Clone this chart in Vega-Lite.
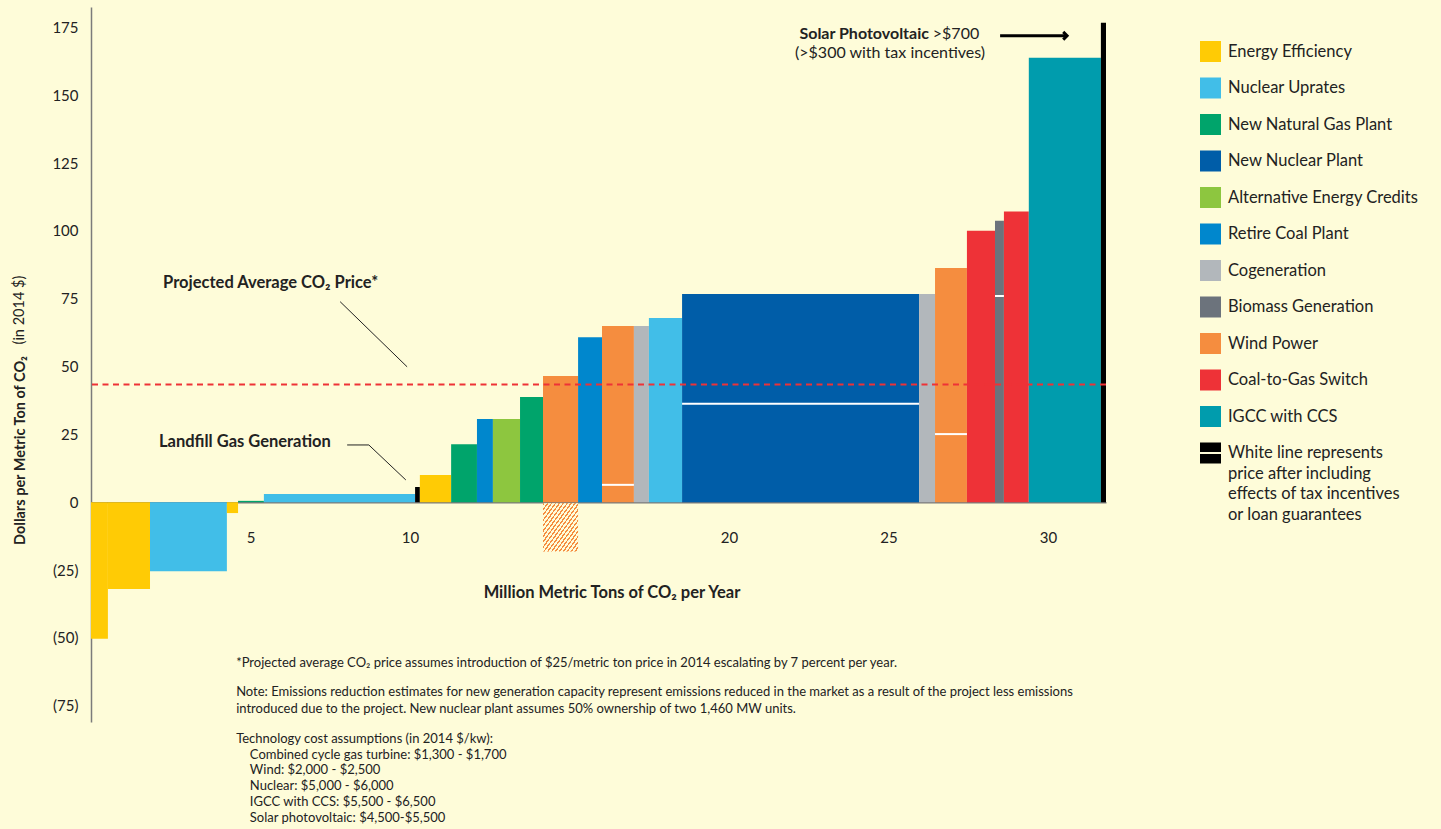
{
  "$schema": "https://vega.github.io/schema/vega-lite/v6.json",
  "width": 1015,
  "height": 715,
  "autosize": {"type": "none"},
  "padding": {"left": 91, "top": 7, "right": 335, "bottom": 107},
  "background": "#FEFCD9",
  "config": {"view": {"stroke": null}, "font": "Lato"},
  "data": {"values": [{}]},
  "datasets": {
    "bars": [
      {"cat": "Energy Efficiency", "x0": 0, "x1": 0.53, "v": -50.3},
      {"cat": "Energy Efficiency", "x0": 0.53, "x1": 1.85, "v": -32.0},
      {"cat": "Nuclear Uprates", "x0": 1.85, "x1": 4.26, "v": -25.4},
      {"cat": "Energy Efficiency", "x0": 4.26, "x1": 4.61, "v": -4.0},
      {"cat": "New Natural Gas Plant", "x0": 4.61, "x1": 5.42, "v": 0.5},
      {"cat": "Nuclear Uprates", "x0": 5.42, "x1": 10.16, "v": 3.0},
      {"cat": "Landfill Gas Generation", "x0": 10.16, "x1": 10.31, "v": 5.6},
      {"cat": "Energy Efficiency", "x0": 10.31, "x1": 11.29, "v": 10.0},
      {"cat": "New Natural Gas Plant", "x0": 11.29, "x1": 12.10, "v": 21.4},
      {"cat": "Retire Coal Plant", "x0": 12.10, "x1": 12.60, "v": 30.7},
      {"cat": "Alternative Energy Credits", "x0": 12.60, "x1": 13.45, "v": 30.7},
      {"cat": "New Natural Gas Plant", "x0": 13.45, "x1": 14.17, "v": 38.8},
      {"cat": "Wind Power", "x0": 14.17, "x1": 15.27, "v": 46.5},
      {"cat": "Retire Coal Plant", "x0": 15.27, "x1": 16.02, "v": 60.8},
      {"cat": "Wind Power", "x0": 16.02, "x1": 17.02, "v": 64.9},
      {"cat": "Cogeneration", "x0": 17.02, "x1": 17.49, "v": 64.9},
      {"cat": "Nuclear Uprates", "x0": 17.49, "x1": 18.53, "v": 67.9},
      {"cat": "New Nuclear Plant", "x0": 18.53, "x1": 25.96, "v": 76.7},
      {"cat": "Cogeneration", "x0": 25.96, "x1": 26.46, "v": 76.7},
      {"cat": "Wind Power", "x0": 26.46, "x1": 27.46, "v": 86.3},
      {"cat": "Coal-to-Gas Switch", "x0": 27.46, "x1": 28.34, "v": 100.0},
      {"cat": "Biomass Generation", "x0": 28.34, "x1": 28.62, "v": 103.7},
      {"cat": "Coal-to-Gas Switch", "x0": 28.62, "x1": 29.40, "v": 107.1},
      {"cat": "IGCC with CCS", "x0": 29.40, "x1": 31.66, "v": 163.8},
      {"cat": "Solar Photovoltaic", "x0": 31.66, "x1": 31.82, "v": 176.7}
    ],
    "whites": [
      {"x0": 16.02, "x1": 17.02, "v": 6.4},
      {"x0": 18.53, "x1": 25.96, "v": 36.3},
      {"x0": 26.46, "x1": 27.46, "v": 25.1},
      {"x0": 28.34, "x1": 28.62, "v": 76.0}
    ],
    "leaders": [
      {"g": "avg", "o": 1, "x": 7.81, "y": 73.9},
      {"g": "avg", "o": 2, "x": 9.91, "y": 49.9},
      {"g": "lf", "o": 1, "x": 8.03, "y": 21.1},
      {"g": "lf", "o": 2, "x": 8.71, "y": 21.1},
      {"g": "lf", "o": 3, "x": 9.87, "y": 8.2}
    ]
  },
  "layer": [
    {
      "data": {"name": "bars"},
      "mark": {"type": "rect", "strokeWidth": 0},
      "encoding": {
        "x": {
          "field": "x0", "type": "quantitative",
          "scale": {"domain": [0, 31.82], "nice": false, "zero": false},
          "axis": {
            "values": [5, 10, 20, 25, 30],
            "offset": -219.8,
            "domainColor": "#7b7b7b", "domainWidth": 1.5,
            "ticks": false, "grid": false,
            "labelPadding": 28, "labelFontSize": 15, "labelColor": "#222222", "labelFont": "Lato",
            "title": "Million Metric Tons of CO₂ per Year",
            "titleFont": "Lato", "titleFontSize": 16.5, "titleFontWeight": "bold", "titleColor": "#222222",
            "titleX": 520.5, "titleY": 89.8, "titleBaseline": "middle", "titleAlign": "center"
          }
        },
        "x2": {"field": "x1"},
        "y": {
          "field": "v", "type": "quantitative",
          "scale": {"domain": [-81, 182.5], "nice": false, "zero": false},
          "axis": {
            "values": [175, 150, 125, 100, 75, 50, 25, 0, -25, -50, -75],
            "labelExpr": "datum.value < 0 ? '(' + abs(datum.value) + ')' : datum.label",
            "domainColor": "#7b7b7b", "domainWidth": 1.5,
            "ticks": false, "grid": false,
            "labelPadding": 13, "labelFontSize": 15, "labelColor": "#222222", "labelFont": "Lato",
            "title": "Dollars per Metric Ton of CO₂",
            "titleFont": "Lato", "titleFontSize": 14.5, "titleFontWeight": "bold", "titleColor": "#222222",
            "titleX": -71, "titleY": 443, "titleAngle": 270, "titleAlign": "center", "titleBaseline": "middle"
          }
        },
        "y2": {"datum": 0},
        "color": {
          "field": "cat", "type": "nominal",
          "scale": {
            "domain": ["Energy Efficiency", "Nuclear Uprates", "New Natural Gas Plant", "New Nuclear Plant", "Alternative Energy Credits", "Retire Coal Plant", "Cogeneration", "Biomass Generation", "Wind Power", "Coal-to-Gas Switch", "IGCC with CCS", "White line represents price after including effects of tax incentives or loan guarantees", "Landfill Gas Generation", "Solar Photovoltaic"],
            "range": ["#FFCB05", "#41BEE8", "#00A46B", "#005DA8", "#8DC63F", "#0087CD", "#B2B7BB", "#6C737C", "#F58D3F", "#EE3237", "#009CAD", "#000000", "#000000", "#000000"]
          },
          "legend": {
            "values": ["Energy Efficiency", "Nuclear Uprates", "New Natural Gas Plant", "New Nuclear Plant", "Alternative Energy Credits", "Retire Coal Plant", "Cogeneration", "Biomass Generation", "Wind Power", "Coal-to-Gas Switch", "IGCC with CCS", "White line represents price after including effects of tax incentives or loan guarantees"],
            "orient": "none", "legendX": 1109, "legendY": 34,
            "title": null,
            "symbolType": "square", "symbolSize": 441, "symbolStrokeWidth": 0, "symbolOpacity": 1,
            "labelFont": "Lato", "labelFontSize": 16.5, "labelColor": "#222222", "labelLimit": 300, "labelOffset": 7,
            "rowPadding": 15.5,
            "labelExpr": "datum.value == 'White line represents price after including effects of tax incentives or loan guarantees' ? ['White line represents', 'price after including', 'effects of tax incentives', 'or loan guarantees'] : datum.label",
            "encode": {
              "symbols": {"update": {"shape": {"signal": "datum.value == 'White line represents price after including effects of tax incentives or loan guarantees' ? 'M-1,-1H1V-0.1H-1Z M-1,0.1H1V1H-1Z' : 'square'"}}},
              "labels": {"update": {
                "baseline": {"signal": "datum.value == 'White line represents price after including effects of tax incentives or loan guarantees' ? 'top' : 'middle'"},
                "dy": {"signal": "datum.value == 'White line represents price after including effects of tax incentives or loan guarantees' ? -8 : 0"},
                "lineHeight": {"value": 20.7}
              }}
            }
          }
        }
      }
    },
    {
      "mark": {
        "type": "rect",
        "fill": {
          "gradient": "linear", "x1": 0, "y1": 0, "x2": 1, "y2": 1,
          "stops": [
            {"offset": 0, "color": "#F58D3F"}, {"offset": 0.022, "color": "#F58D3F"}, {"offset": 0.022, "color": "#FEFCD9"}, {"offset": 0.0556, "color": "#FEFCD9"},
            {"offset": 0.0556, "color": "#F58D3F"}, {"offset": 0.0776, "color": "#F58D3F"}, {"offset": 0.0776, "color": "#FEFCD9"}, {"offset": 0.1111, "color": "#FEFCD9"},
            {"offset": 0.1111, "color": "#F58D3F"}, {"offset": 0.1331, "color": "#F58D3F"}, {"offset": 0.1331, "color": "#FEFCD9"}, {"offset": 0.1667, "color": "#FEFCD9"},
            {"offset": 0.1667, "color": "#F58D3F"}, {"offset": 0.1887, "color": "#F58D3F"}, {"offset": 0.1887, "color": "#FEFCD9"}, {"offset": 0.2222, "color": "#FEFCD9"},
            {"offset": 0.2222, "color": "#F58D3F"}, {"offset": 0.2442, "color": "#F58D3F"}, {"offset": 0.2442, "color": "#FEFCD9"}, {"offset": 0.2778, "color": "#FEFCD9"},
            {"offset": 0.2778, "color": "#F58D3F"}, {"offset": 0.2998, "color": "#F58D3F"}, {"offset": 0.2998, "color": "#FEFCD9"}, {"offset": 0.3333, "color": "#FEFCD9"},
            {"offset": 0.3333, "color": "#F58D3F"}, {"offset": 0.3553, "color": "#F58D3F"}, {"offset": 0.3553, "color": "#FEFCD9"}, {"offset": 0.3889, "color": "#FEFCD9"},
            {"offset": 0.3889, "color": "#F58D3F"}, {"offset": 0.4109, "color": "#F58D3F"}, {"offset": 0.4109, "color": "#FEFCD9"}, {"offset": 0.4444, "color": "#FEFCD9"},
            {"offset": 0.4444, "color": "#F58D3F"}, {"offset": 0.4664, "color": "#F58D3F"}, {"offset": 0.4664, "color": "#FEFCD9"}, {"offset": 0.5, "color": "#FEFCD9"},
            {"offset": 0.5, "color": "#F58D3F"}, {"offset": 0.522, "color": "#F58D3F"}, {"offset": 0.522, "color": "#FEFCD9"}, {"offset": 0.5556, "color": "#FEFCD9"},
            {"offset": 0.5556, "color": "#F58D3F"}, {"offset": 0.5776, "color": "#F58D3F"}, {"offset": 0.5776, "color": "#FEFCD9"}, {"offset": 0.6111, "color": "#FEFCD9"},
            {"offset": 0.6111, "color": "#F58D3F"}, {"offset": 0.6331, "color": "#F58D3F"}, {"offset": 0.6331, "color": "#FEFCD9"}, {"offset": 0.6667, "color": "#FEFCD9"},
            {"offset": 0.6667, "color": "#F58D3F"}, {"offset": 0.6887, "color": "#F58D3F"}, {"offset": 0.6887, "color": "#FEFCD9"}, {"offset": 0.7222, "color": "#FEFCD9"},
            {"offset": 0.7222, "color": "#F58D3F"}, {"offset": 0.7442, "color": "#F58D3F"}, {"offset": 0.7442, "color": "#FEFCD9"}, {"offset": 0.7778, "color": "#FEFCD9"},
            {"offset": 0.7778, "color": "#F58D3F"}, {"offset": 0.7998, "color": "#F58D3F"}, {"offset": 0.7998, "color": "#FEFCD9"}, {"offset": 0.8333, "color": "#FEFCD9"},
            {"offset": 0.8333, "color": "#F58D3F"}, {"offset": 0.8553, "color": "#F58D3F"}, {"offset": 0.8553, "color": "#FEFCD9"}, {"offset": 0.8889, "color": "#FEFCD9"},
            {"offset": 0.8889, "color": "#F58D3F"}, {"offset": 0.9109, "color": "#F58D3F"}, {"offset": 0.9109, "color": "#FEFCD9"}, {"offset": 0.9444, "color": "#FEFCD9"},
            {"offset": 0.9444, "color": "#F58D3F"}, {"offset": 0.9664, "color": "#F58D3F"}, {"offset": 0.9664, "color": "#FEFCD9"}, {"offset": 1, "color": "#FEFCD9"}
          ]
        }
      },
      "encoding": {
        "x": {"datum": 14.17},
        "x2": {"datum": 15.27},
        "y": {"datum": -0.4},
        "y2": {"datum": -18.2}
      }
    },
    {
      "data": {"name": "whites"},
      "mark": {"type": "rule", "color": "#FFFFFF", "strokeWidth": 2},
      "encoding": {
        "x": {"field": "x0", "type": "quantitative"},
        "x2": {"field": "x1"},
        "y": {"field": "v", "type": "quantitative"}
      }
    },
    {
      "mark": {"type": "rule", "color": "#EE3237", "strokeWidth": 2, "strokeDash": [6, 4.5]},
      "encoding": {"y": {"datum": 43.4}}
    },
    {
      "data": {"name": "leaders"},
      "mark": {"type": "line", "color": "#222222", "strokeWidth": 1},
      "encoding": {
        "x": {"field": "x", "type": "quantitative"},
        "y": {"field": "y", "type": "quantitative"},
        "detail": {"field": "g"},
        "order": {"field": "o"}
      }
    },
    {
      "mark": {"type": "rule", "color": "#000000", "strokeWidth": 3},
      "encoding": {"x": {"datum": 28.5}, "x2": {"datum": 30.55}, "y": {"datum": 171.9}}
    },
    {
      "mark": {"type": "point", "shape": "M-1,-1L0,0L-1,1", "filled": false, "stroke": "#000000", "strokeWidth": 3, "size": 60, "opacity": 1},
      "encoding": {"x": {"datum": 30.6}, "y": {"datum": 171.9}}
    },
    {
      "mark": {"type": "text", "text": "Projected Average CO₂ Price*", "font": "Lato", "fontSize": 16.5, "fontWeight": "bold", "align": "left", "baseline": "middle", "color": "#222222"},
      "encoding": {"x": {"datum": 2.26}, "y": {"datum": 80.8}}
    },
    {
      "mark": {"type": "text", "text": "Landfill Gas Generation", "font": "Lato", "fontSize": 16.5, "fontWeight": "bold", "align": "left", "baseline": "middle", "color": "#222222"},
      "encoding": {"x": {"datum": 2.13}, "y": {"datum": 22.2}}
    },
    {
      "mark": {"type": "text", "text": "Solar Photovoltaic", "font": "Lato", "fontSize": 16, "fontWeight": "bold", "align": "right", "baseline": "middle", "color": "#222222"},
      "encoding": {"x": {"datum": 26.27}, "y": {"datum": 172.5}}
    },
    {
      "mark": {"type": "text", "text": ">$700", "font": "Lato", "fontSize": 16, "align": "left", "baseline": "middle", "color": "#222222"},
      "encoding": {"x": {"datum": 26.39}, "y": {"datum": 172.5}}
    },
    {
      "mark": {"type": "text", "text": "(>$300 with tax incentives)", "font": "Lato", "fontSize": 16, "align": "center", "baseline": "middle", "color": "#222222"},
      "encoding": {"x": {"datum": 25.05}, "y": {"datum": 165.5}}
    },
    {
      "mark": {"type": "text", "text": "(in 2014 $)", "font": "Lato", "fontSize": 14.5, "angle": 270, "align": "center", "baseline": "middle", "color": "#222222"},
      "encoding": {"x": {"datum": -2.23}, "y": {"datum": 70.8}}
    },
    {
      "mark": {"type": "text", "font": "Lato", "fontSize": 13, "align": "left", "baseline": "alphabetic", "color": "#222222",
               "text": "*Projected average CO₂ price assumes introduction of $25/metric ton price in 2014 escalating by 7 percent per year."},
      "encoding": {"x": {"datum": 4.55}, "y": {"datum": -60.6}}
    },
    {
      "mark": {"type": "text", "font": "Lato", "fontSize": 13, "align": "left", "baseline": "alphabetic", "lineHeight": 17, "color": "#222222",
               "text": ["Note: Emissions reduction estimates for new generation capacity represent emissions reduced in the market as a result of the project less emissions", "introduced due to the project. New nuclear plant assumes 50% ownership of two 1,460 MW units."]},
      "encoding": {"x": {"datum": 4.55}, "y": {"datum": -71.4}}
    },
    {
      "mark": {"type": "text", "font": "Lato", "fontSize": 13, "align": "left", "baseline": "alphabetic", "color": "#222222",
               "text": "Technology cost assumptions (in 2014 $/kw):"},
      "encoding": {"x": {"datum": 4.55}, "y": {"datum": -88.6}}
    },
    {
      "mark": {"type": "text", "font": "Lato", "fontSize": 13, "align": "left", "baseline": "alphabetic", "lineHeight": 15.75, "color": "#222222",
               "text": ["Combined cycle gas turbine: $1,300 - $1,700", "Wind: $2,000 - $2,500", "Nuclear: $5,000 - $6,000", "IGCC with CCS: $5,500 - $6,500", "Solar photovoltaic: $4,500-$5,500"]},
      "encoding": {"x": {"datum": 4.98}, "y": {"datum": -94.5}}
    }
  ]
}
